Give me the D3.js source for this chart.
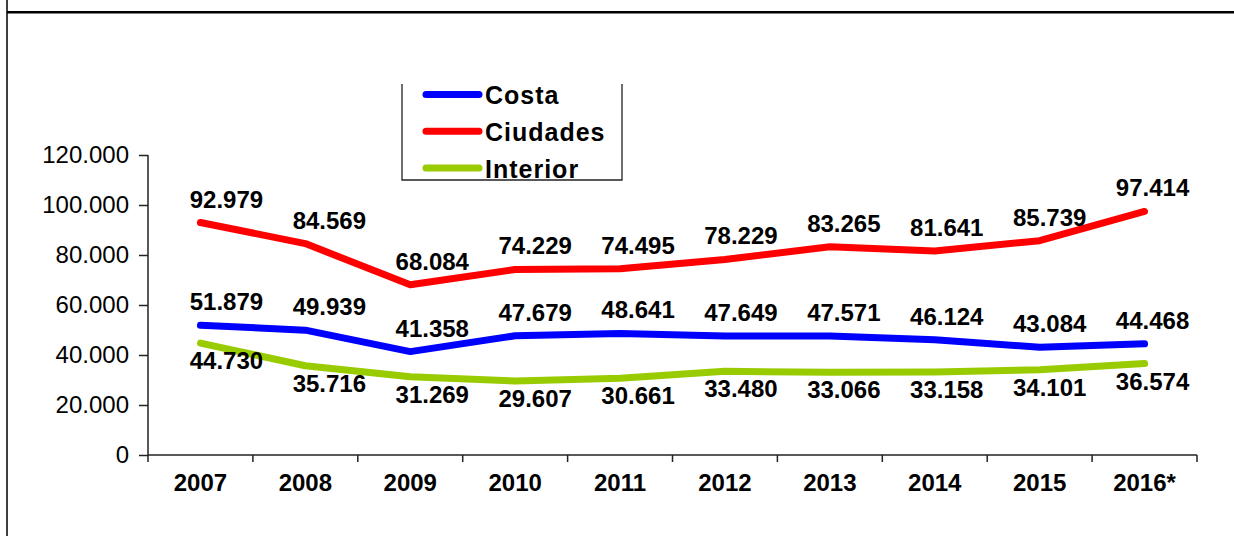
<!DOCTYPE html>
<html><head><meta charset="utf-8">
<script src="https://cdn.jsdelivr.net/npm/d3@7"></script>
<style>
html,body{margin:0;padding:0;background:#fff;}
svg{display:block;font-family:"Liberation Sans",Arial,sans-serif;}
</style></head>
<body>
<svg id="c" width="1234" height="536"></svg>
<script>
const years = ["2007","2008","2009","2010","2011","2012","2013","2014","2015","2016*"];
const costa    = [51879,49939,41358,47679,48641,47649,47571,46124,43084,44468];
const ciudades = [92979,84569,68084,74229,74495,78229,83265,81641,85739,97414];
const interior = [44730,35716,31269,29607,30661,33480,33066,33158,34101,36574];
const seriesNames = ["Costa","Ciudades","Interior"];
const seriesColors = ["#0000ff","#ff0000","#99cc00"];
const yTicks = [0,20000,40000,60000,80000,100000,120000];

const series = [
  {name: seriesNames[0], values: costa,    color: seriesColors[0], pos: "above"},
  {name: seriesNames[1], values: ciudades, color: seriesColors[1], pos: "above"},
  {name: seriesNames[2], values: interior, color: seriesColors[2], pos: "below"}
];

const svg = d3.select("#c");
const pLeft = 148, pRight = 1197, pTop = 155, pBottom = 455;

const xBand = d3.scaleBand().domain(years).range([pLeft, pRight]).padding(0);
const xc = y => xBand(y) + xBand.bandwidth()/2;
const yS = d3.scaleLinear().domain([0,120000]).range([pBottom, pTop]);
const fmt = v => d3.format(",")(v).replace(/,/g, ".");

// frame
svg.append("line").attr("x1",7).attr("x2",7).attr("y1",0).attr("y2",536)
  .attr("stroke","#000").attr("stroke-width",1.5);
svg.append("line").attr("x1",7).attr("x2",1234).attr("y1",12.3).attr("y2",12.3)
  .attr("stroke","#000").attr("stroke-width",2.6);

// y axis
const yAxis = svg.append("g").attr("transform",`translate(${pLeft},0)`)
  .call(d3.axisLeft(yS).tickValues(yTicks).tickSize(9).tickPadding(10)
    .tickFormat(d => d === 0 ? "0" : fmt(d)));
yAxis.select(".domain").attr("stroke","#222").attr("stroke-width",1.5).attr("d",`M0,${pTop}V${pBottom}`);
yAxis.selectAll(".tick line").attr("stroke","#222").attr("stroke-width",1.5);
yAxis.selectAll(".tick text").attr("font-size",24).attr("fill","#000")
  .attr("font-family","'Liberation Sans',Arial,sans-serif");

// x axis with ticks at band boundaries
const xAxisG = svg.append("g").attr("transform",`translate(0,${pBottom})`);
xAxisG.append("line").attr("x1",pLeft).attr("x2",pRight).attr("y1",0).attr("y2",0)
  .attr("stroke","#222").attr("stroke-width",1.5);
const bounds = years.map(y => xBand(y)).concat([pRight]);
xAxisG.selectAll("line.tk").data(bounds).join("line").attr("class","tk")
  .attr("x1",d=>d).attr("x2",d=>d).attr("y1",0).attr("y2",7)
  .attr("stroke","#222").attr("stroke-width",1.5);
xAxisG.selectAll("text").data(years).join("text")
  .attr("x", d => xc(d)).attr("y", 36)
  .attr("text-anchor","middle").attr("font-size",24).attr("font-weight","bold")
  .attr("fill","#000").text(d=>d);

// lines
const line = d3.line().x((d,i)=>xc(years[i])).y(d=>yS(d));
series.forEach(s => {
  svg.append("path").attr("d", line(s.values)).attr("fill","none")
    .attr("stroke", s.color).attr("stroke-width",7)
    .attr("stroke-linejoin","round").attr("stroke-linecap","round");
});

// data labels
series.forEach(s => {
  svg.append("g").selectAll("text").data(s.values).join("text")
    .attr("x", (d,i) => xc(years[i]) + 26 - 2*i)
    .attr("y", d => s.pos === "above" ? yS(d) - 15 : yS(d) + 26)
    .attr("text-anchor","middle").attr("font-size",24).attr("font-weight","bold")
    .attr("fill","#000").text(d => fmt(d));
});

// legend
const lg = svg.append("g");
lg.append("path").attr("d","M402,84V180H622V84").attr("fill","none")
  .attr("stroke","#222").attr("stroke-width",1.3);
const legendY = d3.scalePoint().domain(seriesNames).range([94.5,168]);
series.forEach(s => {
  const yy = legendY(s.name);
  lg.append("line").attr("x1",426).attr("x2",479).attr("y1",yy).attr("y2",yy)
    .attr("stroke",s.color).attr("stroke-width",7).attr("stroke-linecap","round");
  lg.append("text").attr("x",485).attr("y",yy+9.5).attr("font-size",25)
    .attr("font-weight","bold").attr("letter-spacing",1).attr("fill","#000").text(s.name);
});
</script>
</body></html>
